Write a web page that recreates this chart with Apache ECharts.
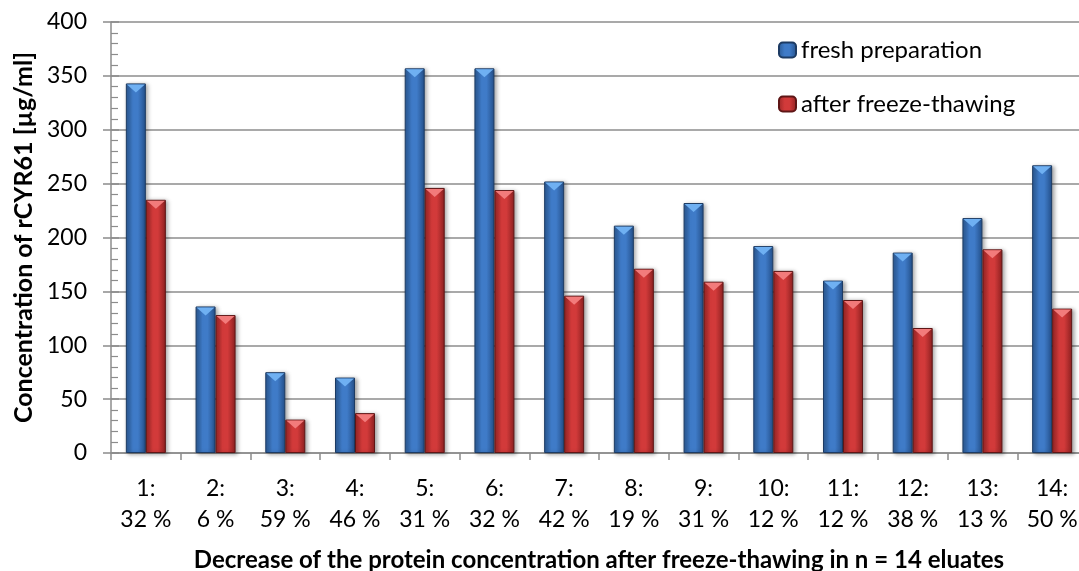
<!DOCTYPE html>
<html>
<head>
<meta charset="utf-8">
<style>
  html, body { margin: 0; padding: 0; background: #ffffff; }
  #chart { width: 1079px; height: 571px; }
</style>
<script src="https://cdn.jsdelivr.net/npm/echarts@6/dist/echarts.min.js"></script>
</head>
<body>
<div id="chart"></div>
<script>
// Eluate numbers and the relative loss after freeze-thawing
const eluateIds = ['1', '2', '3', '4', '5', '6', '7', '8', '9', '10', '11', '12', '13', '14'];
const decreaseLabels = ['32 %', '6 %', '59 %', '46 %', '31 %', '32 %', '42 %', '19 %', '31 %', '12 %', '12 %', '38 %', '13 %', '50 %'];

// rCYR61 concentration in µg/ml
const freshPreparation = [343, 136, 75, 70, 357, 357, 252, 211, 232, 192, 160, 186, 218, 267];
const afterFreezeThawing = [235, 128, 31, 37, 246, 244, 146, 171, 159, 169, 142, 116, 189, 134];

const seriesNames = ['fresh preparation', 'after freeze-thawing'];

const categories = eluateIds.map((id, i) => id + ':\n' + decreaseLabels[i]);

const FONT = 'Lato, "Open Sans", sans-serif';

function barGradient(edgeDark, light, edgeRight) {
  return new echarts.graphic.LinearGradient(0, 0, 1, 0, [
    { offset: 0, color: edgeDark },
    { offset: 0.35, color: light },
    { offset: 0.6, color: light },
    { offset: 1, color: edgeRight }
  ]);
}

const blueFill = barGradient('#2b5a94', '#3f7bc8', '#24508a');
const redFill = barGradient('#9a2626', '#d23a3a', '#8e2121');

const chart = echarts.init(document.getElementById('chart'), null, { renderer: 'canvas' });

const gridLine = '#8c8c8c';

chart.setOption({
  animation: false,
  backgroundColor: '#ffffff',
  textStyle: { fontFamily: FONT },
  grid: { left: 111, top: 22, width: 976, height: 431, outerBoundsMode: 'none', containLabel: false },
  legend: {
    data: seriesNames,
    orient: 'vertical',
    left: 773,
    top: 33,
    itemWidth: 17,
    itemHeight: 15,
    itemGap: 30,
    textStyle: { fontFamily: FONT, fontSize: 24, color: '#000000' }
  },
  xAxis: {
    type: 'category',
    data: categories,
    boundaryGap: true,
    axisLine: { lineStyle: { color: gridLine, width: 1.5 } },
    axisTick: { show: true, length: 7, alignWithLabel: false, lineStyle: { color: gridLine, width: 1.5 } },
    axisLabel: {
      interval: 0,
      margin: 20,
      fontFamily: FONT,
      fontSize: 23,
      lineHeight: 31,
      color: '#000000'
    },
    name: 'Decrease of the protein concentration after freeze-thawing in n = 14 eluates',
    nameLocation: 'middle',
    nameGap: 95,
    nameTextStyle: { fontFamily: FONT, fontSize: 24, fontWeight: 'bold', color: '#000000' }
  },
  yAxis: [
    {
      type: 'value',
      min: 0,
      max: 400,
      interval: 50,
      axisLine: { show: true, lineStyle: { color: gridLine, width: 1.5 } },
      axisTick: { show: true, inside: false, length: 8, lineStyle: { color: gridLine, width: 1.5 } },
      axisLabel: { margin: 24, fontFamily: FONT, fontSize: 23, color: '#000000' },
      splitLine: { show: true, lineStyle: { color: gridLine, width: 1.5 } },
      name: 'Concentration of rCYR61 [µg/ml]',
      nameLocation: 'middle',
      nameGap: 74,
      nameTextStyle: { fontFamily: FONT, fontSize: 25, fontWeight: 'bold', color: '#000000' }
    },
    {
      // minor ticks drawn inside the plot, every 10 µg/ml
      type: 'value',
      position: 'left',
      min: 0,
      max: 400,
      interval: 50,
      axisLine: { show: false },
      axisTick: { show: true, inside: true, length: 8, lineStyle: { color: gridLine, width: 1.5 } },
      minorTick: { show: true, splitNumber: 5, length: 7, lineStyle: { color: gridLine, width: 1.2 } },
      axisLabel: { show: false },
      splitLine: { show: false }
    }
  ],
  series: [
    {
      name: seriesNames[0],
      type: 'bar',
      data: freshPreparation,
      barWidth: 20,
      barGap: '0%',
      itemStyle: {
        color: blueFill,
        borderColor: '#1d3b63',
        borderWidth: 1,
        shadowColor: 'rgba(0,0,0,0.35)',
        shadowBlur: 4,
        shadowOffsetX: 2,
        shadowOffsetY: 1
      }
    },
    {
      name: seriesNames[1],
      type: 'bar',
      data: afterFreezeThawing,
      barWidth: 20,
      barGap: '0%',
      itemStyle: {
        color: redFill,
        borderColor: '#5e1616',
        borderWidth: 1,
        shadowColor: 'rgba(0,0,0,0.35)',
        shadowBlur: 4,
        shadowOffsetX: 2,
        shadowOffsetY: 1
      }
    },
    // bevelled caps on top of each bar
    {
      name: 'fresh cap',
      type: 'pictorialBar',
      data: freshPreparation,
      barWidth: 20,
      barGap: '0%',
      symbol: 'path://M0 0L20 0L10 8Z',
      symbolSize: [18, 8],
      symbolPosition: 'end',
      symbolOffset: [0, 1],
      z: 5,
      silent: true,
      itemStyle: { color: '#6fb0f2' }
    },
    {
      name: 'thawed cap',
      type: 'pictorialBar',
      data: afterFreezeThawing,
      barWidth: 20,
      barGap: '0%',
      symbol: 'path://M0 0L20 0L10 8Z',
      symbolSize: [18, 8],
      symbolPosition: 'end',
      symbolOffset: [0, 1],
      z: 5,
      silent: true,
      itemStyle: { color: '#f27b7b' }
    }
  ]
});
</script>
</body>
</html>
